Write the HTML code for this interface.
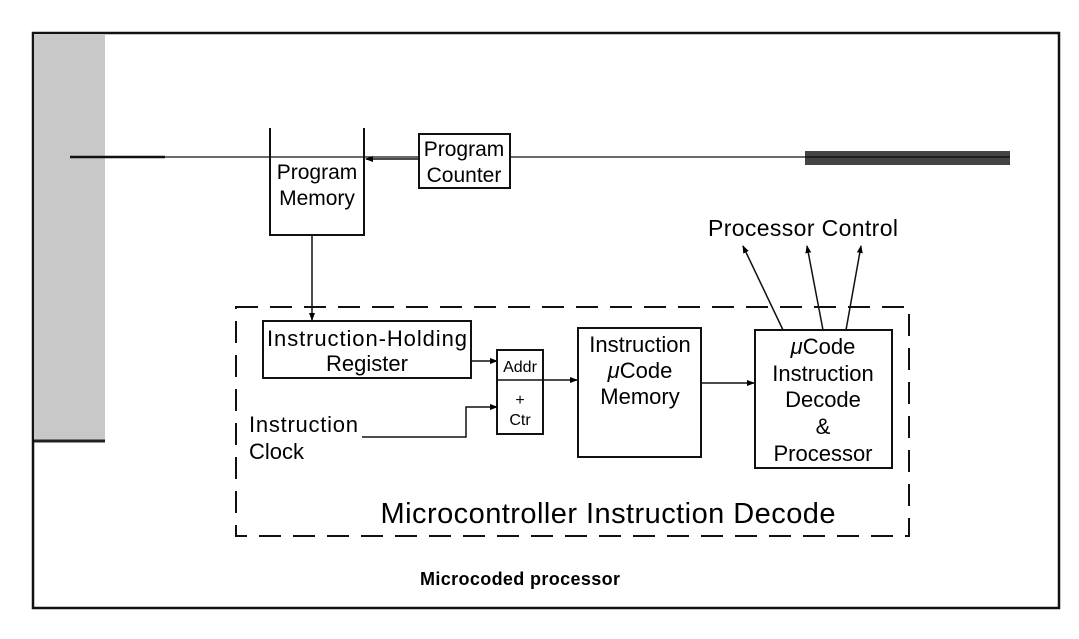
<!DOCTYPE html>
<html><head><style>
body{margin:0;background:#fff;}
svg{display:block;font-family:"Liberation Sans",sans-serif;}
</style></head><body>
<svg width="1079" height="639" viewBox="0 0 1079 639" xmlns="http://www.w3.org/2000/svg">
<defs><marker id="a" markerWidth="8" markerHeight="8" refX="7" refY="4" orient="auto" markerUnits="userSpaceOnUse"><path d="M0,1 L8,4 L0,7 z" fill="#000"/></marker></defs>
<rect x="33" y="33" width="1026" height="575" fill="#fff" stroke="#111" stroke-width="2.5"/>
<rect x="34" y="34" width="71" height="406" fill="#c8c8c8"/>
<line x1="34" y1="441" x2="105" y2="441" stroke="#222" stroke-width="3"/>
<line x1="70" y1="157" x2="165" y2="157" stroke="#111" stroke-width="2.5"/>
<line x1="165" y1="157" x2="805" y2="157" stroke="#111" stroke-width="1.3"/>
<rect x="805" y="151" width="205" height="14" fill="#444"/>
<line x1="805" y1="157" x2="1010" y2="157" stroke="#111" stroke-width="1.5"/>
<path d="M270,128 V235 H364 V128" fill="#fff" stroke="#111" stroke-width="2"/>
<line x1="270" y1="157" x2="364" y2="157" stroke="#111" stroke-width="1.3"/>
<text x="317" y="179" font-size="21" text-anchor="middle">Program</text>
<text x="317" y="205" font-size="21" text-anchor="middle">Memory</text>
<line x1="418" y1="159" x2="366" y2="159" stroke="#111" stroke-width="1.5" marker-end="url(#a)"/>
<rect x="419" y="134" width="91" height="54" fill="#fff" stroke="#111" stroke-width="2"/>
<text x="464" y="156" font-size="21" text-anchor="middle">Program</text>
<text x="464" y="182" font-size="21" text-anchor="middle">Counter</text>
<line x1="312" y1="235" x2="312" y2="320" stroke="#111" stroke-width="1.5" marker-end="url(#a)"/>
<rect x="236" y="307" width="673" height="229" fill="none" stroke="#111" stroke-width="2" stroke-dasharray="22,12"/>
<rect x="263" y="321" width="208" height="57" fill="#fff" stroke="#111" stroke-width="2"/>
<text x="367" y="346" font-size="22" text-anchor="middle" textLength="200">Instruction-Holding</text>
<text x="367" y="371" font-size="22" text-anchor="middle">Register</text>
<line x1="471" y1="361" x2="497" y2="361" stroke="#111" stroke-width="1.5" marker-end="url(#a)"/>
<rect x="497" y="350" width="46" height="84" fill="#fff" stroke="#111" stroke-width="2"/>
<line x1="497" y1="380" x2="543" y2="380" stroke="#111" stroke-width="1.5"/>
<text x="520" y="372" font-size="16" text-anchor="middle">Addr</text>
<text x="520" y="405" font-size="16" text-anchor="middle">+</text>
<text x="520" y="425" font-size="16" text-anchor="middle">Ctr</text>
<text x="249" y="432" font-size="22" textLength="109">Instruction</text>
<text x="249" y="459" font-size="22">Clock</text>
<path d="M362,437 H466 V407 H497" fill="none" stroke="#111" stroke-width="1.5" marker-end="url(#a)"/>
<line x1="543" y1="380" x2="577" y2="380" stroke="#111" stroke-width="1.5" marker-end="url(#a)"/>
<rect x="578" y="328" width="123" height="129" fill="#fff" stroke="#111" stroke-width="2"/>
<text x="640" y="352" font-size="22" text-anchor="middle">Instruction</text>
<text x="640" y="378" font-size="22" text-anchor="middle"><tspan font-style="italic">μ</tspan>Code</text>
<text x="640" y="404" font-size="22" text-anchor="middle">Memory</text>
<line x1="701" y1="383" x2="754" y2="383" stroke="#111" stroke-width="1.5" marker-end="url(#a)"/>
<rect x="755" y="330" width="137" height="138" fill="#fff" stroke="#111" stroke-width="2"/>
<text x="823" y="354" font-size="22" text-anchor="middle"><tspan font-style="italic">μ</tspan>Code</text>
<text x="823" y="381" font-size="22" text-anchor="middle">Instruction</text>
<text x="823" y="407" font-size="22" text-anchor="middle">Decode</text>
<text x="823" y="434" font-size="22" text-anchor="middle">&amp;</text>
<text x="823" y="461" font-size="22" text-anchor="middle">Processor</text>
<text x="803" y="236" font-size="23" text-anchor="middle" textLength="190">Processor Control</text>
<line x1="783" y1="330" x2="743" y2="246" stroke="#111" stroke-width="1.5" marker-end="url(#a)"/>
<line x1="823" y1="330" x2="807" y2="246" stroke="#111" stroke-width="1.5" marker-end="url(#a)"/>
<line x1="846" y1="330" x2="861" y2="246" stroke="#111" stroke-width="1.5" marker-end="url(#a)"/>
<text x="608" y="523" font-size="29" text-anchor="middle" textLength="455">Microcontroller Instruction Decode</text>
<text x="520" y="585" font-size="18" font-weight="bold" text-anchor="middle" textLength="200">Microcoded processor</text>
</svg>
</body></html>
